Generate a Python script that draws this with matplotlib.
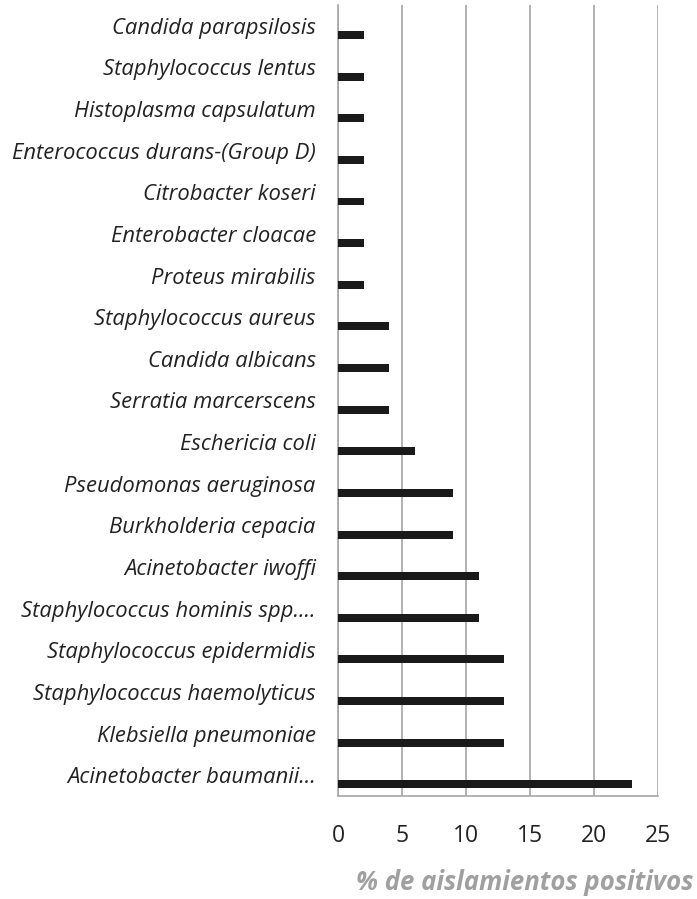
import matplotlib
matplotlib.use("Agg")
import matplotlib.pyplot as plt
import numpy as np

categories = [
    "Acinetobacter baumanii...",
    "Klebsiella pneumoniae",
    "Staphylococcus haemolyticus",
    "Staphylococcus epidermidis",
    "Staphylococcus hominis spp....",
    "Acinetobacter iwoffi",
    "Burkholderia cepacia",
    "Pseudomonas aeruginosa",
    "Eschericia coli",
    "Serratia marcerscens",
    "Candida albicans",
    "Staphylococcus aureus",
    "Proteus mirabilis",
    "Enterobacter cloacae",
    "Citrobacter koseri",
    "Enterococcus durans-(Group D)",
    "Histoplasma capsulatum",
    "Staphylococcus lentus",
    "Candida parapsilosis",
]
values = [23, 13, 13, 13, 11, 11, 9, 9, 6, 4, 4, 4, 2, 2, 2, 2, 2, 2, 2]
xticks = [0, 5, 10, 15, 20, 25]
xlabel = "% de aislamientos positivos"

fig = plt.figure(figsize=(6.97, 8.99), dpi=100)
ax = fig.add_axes([338/697, 103/899, 320/697, 791/899])

y = np.arange(len(categories))
ax.barh(y - 0.22, values, height=0.19, color="#1a1a1a", zorder=3)

ax.set_xlim(0, 25)
ax.set_ylim(-0.5, len(categories) - 0.5)
ax.set_xticks(xticks)
ax.set_xticklabels([str(t) for t in xticks], fontsize=16.5, family="Open Sans", color="#222222")
ax.set_yticks(y)
ax.set_yticklabels(categories, fontsize=15.8, family="Open Sans", style="italic", color="#222222")
ax.tick_params(axis="both", length=0)
ax.tick_params(axis="y", pad=16)
ax.tick_params(axis="x", pad=20)

ax.grid(axis="x", color="#a6a6a6", linewidth=1.2, zorder=0)
for s in ["top", "right"]:
    ax.spines[s].set_visible(False)
for s in ["left", "bottom"]:
    ax.spines[s].set_color("#a6a6a6")
    ax.spines[s].set_linewidth(1.2)

fig.text(693/697, 1 - 882/899, xlabel, ha="right", va="center", fontsize=18.5,
         family="Open Sans", style="italic", weight="bold", color="#a0a0a0")

fig.savefig("out.png", dpi=100)
